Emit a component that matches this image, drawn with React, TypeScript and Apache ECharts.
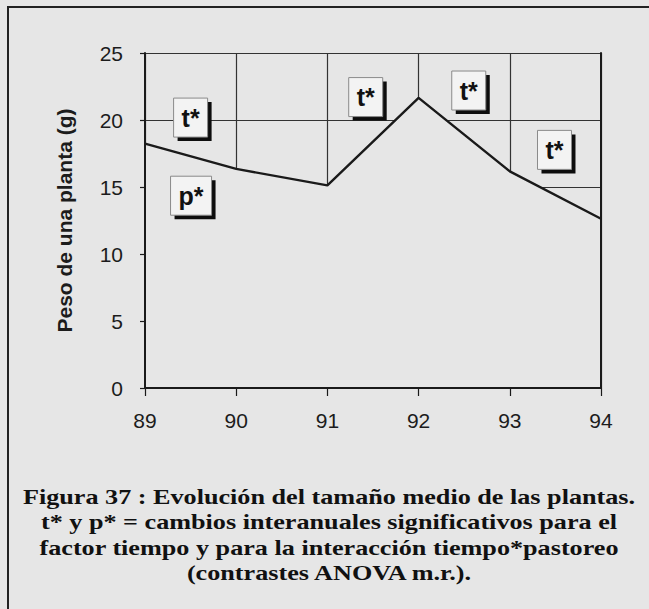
import React, { useEffect, useRef } from "react";
import * as echarts from "echarts";

const years = [89, 90, 91, 92, 93, 94];
const peso = [18.24, 16.35, 15.12, 21.65, 16.17, 12.63];
const yTicks = { min: 0, max: 25, interval: 5 };
const annotations: { label: string; x: number; y: number }[] = [
  { label: "t*", x: 89.5, y: 20.18 },
  { label: "p*", x: 89.505, y: 14.35 },
  { label: "t*", x: 91.42, y: 21.71 },
  { label: "t*", x: 92.55, y: 22.2 },
  { label: "t*", x: 93.49, y: 17.77 },
];
const yTitle = "Peso de una planta (g)";
const captionLines = [
  "Figura 37 : Evolución del tamaño medio de las plantas.",
  "t* y p* = cambios interanuales significativos para el",
  "factor tiempo y para la interacción tiempo*pastoreo",
  "(contrastes ANOVA m.r.).",
];

const BG = "#e6e6e6";
const INK = "#1a1a1a";
const SANS = "Arial, 'Liberation Sans', sans-serif";

export default function App() {
  const ref = useRef<HTMLDivElement>(null);
  useEffect(() => {
    if (!ref.current) return;
    const chart = echarts.init(ref.current, undefined, { renderer: "svg" });
    const xBase = { type: "value" as const, min: 89, max: 94, interval: 1 };
    const yBase = { type: "value" as const, ...yTicks };
    chart.setOption({
      animation: false,
      backgroundColor: BG,
      grid: { left: 145, right: 48, top: 53, bottom: 221 },
      xAxis: [
        {
          ...xBase,
          position: "bottom",
          z: 10,
          axisLine: { show: true, lineStyle: { color: INK, width: 2 } },
          axisTick: { show: true, length: 8, lineStyle: { color: INK, width: 1.2 } },
          axisLabel: { color: "#1c1c1c", fontFamily: SANS, fontSize: 21, margin: 22 },
          splitLine: { show: false },
        },
        {
          ...xBase,
          position: "top",
          z: 10,
          axisLine: { show: true, lineStyle: { color: INK, width: 2 } },
          axisTick: { show: false },
          axisLabel: { show: false },
          splitLine: { show: false },
        },
        {
          ...xBase,
          position: "bottom",
          z: 0,
          axisLine: { show: false },
          axisTick: { show: false },
          axisLabel: { show: false },
          splitLine: { show: true, lineStyle: { color: "#333", width: 1.2 } },
        },
      ],
      yAxis: [
        {
          ...yBase,
          position: "left",
          z: 10,
          name: yTitle,
          nameLocation: "middle",
          nameGap: 70,
          nameTextStyle: { color: "#1c1c1c", fontFamily: SANS, fontSize: 21, fontWeight: "bold" },
          axisLine: { show: true, lineStyle: { color: INK, width: 2 } },
          axisTick: { show: true, length: 5, lineStyle: { color: INK, width: 1.2 } },
          axisLabel: { color: "#1c1c1c", fontFamily: SANS, fontSize: 21, margin: 22 },
          splitLine: { show: false },
        },
        {
          ...yBase,
          position: "right",
          z: 10,
          axisLine: { show: true, lineStyle: { color: INK, width: 2 } },
          axisTick: { show: false },
          axisLabel: { show: false },
          splitLine: { show: false },
        },
        {
          ...yBase,
          position: "left",
          z: 0,
          axisLine: { show: false },
          axisTick: { show: false },
          axisLabel: { show: false },
          splitLine: { show: true, lineStyle: { color: "#333", width: 1.2 } },
        },
      ],
      series: [
        {
          type: "line",
          xAxisIndex: 0,
          yAxisIndex: 0,
          data: years.map((y, i) => [y, peso[i]]),
          symbol: "none",
          lineStyle: { color: INK, width: 2.4 },
          areaStyle: { color: BG, opacity: 1 },
          z: 3,
        },
        {
          type: "custom",
          xAxisIndex: 0,
          yAxisIndex: 0,
          z: 6,
          data: annotations.map((a) => [a.x, a.y]),
          renderItem: (params: any, api: any) => {
            const a = annotations[params.dataIndex];
            const c = api.coord([api.value(0), api.value(1)]);
            const w = a.label === "p*" ? 41 : 34;
            const h = 39;
            const x0 = c[0] - w / 2;
            const y0 = c[1] - h / 2;
            return {
              type: "group",
              children: [
                {
                  type: "rect",
                  shape: { x: x0 + 4, y: y0 + 4, width: w, height: h },
                  style: { fill: "#0d0d0d" },
                },
                {
                  type: "rect",
                  shape: { x: x0, y: y0, width: w, height: h },
                  style: { fill: "#f3f3f3", stroke: "#8a8a8a", lineWidth: 1 },
                },
                {
                  type: "text",
                  x: c[0],
                  y: c[1],
                  style: {
                    text: a.label,
                    fill: "#111",
                    font: `bold 25px ${SANS}`,
                    textAlign: "center",
                    textVerticalAlign: "middle",
                  },
                },
              ],
            };
          },
        },
      ],
      graphic: [
        {
          type: "rect",
          shape: { x: 8, y: 7, width: 700, height: 700 },
          style: { fill: "none", stroke: "#222", lineWidth: 2 },
          silent: true,
        },
        ...captionLines.map((t, i) => ({
          type: "text",
          x: 329,
          y: 496 + i * 25.5,
          scaleX: 1.19,
          style: {
            text: t,
            fill: "#111",
            font: "bold 22px 'Liberation Serif', 'Times New Roman', serif",
            textAlign: "center",
            textVerticalAlign: "middle",
          },
        })),
      ],
    });
    return () => chart.dispose();
  }, []);
  return (
    <div
      ref={ref}
      style={{ position: "fixed", left: 0, top: 0, width: 649, height: 609 }}
    />
  );
}
